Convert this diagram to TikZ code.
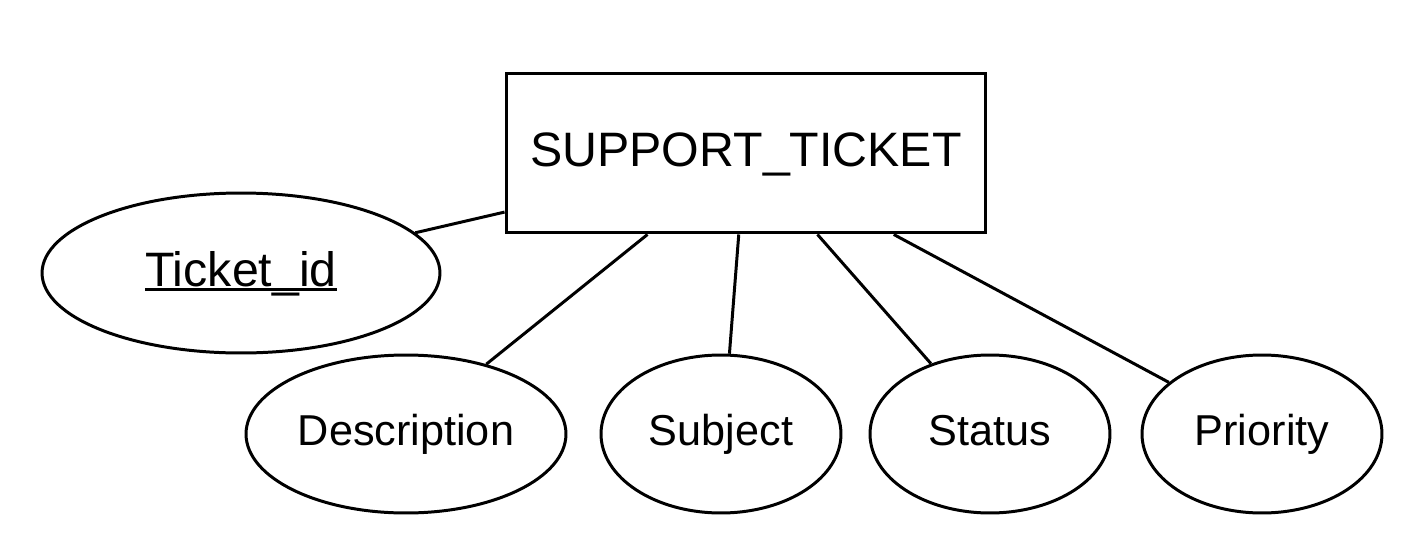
\documentclass[tikz,border=0pt]{standalone}
\usepackage{fontspec}
\setmainfont{Liberation Sans}
\newcommand{\keyattr}[1]{\setbox0\hbox{#1}\rlap{\copy0}\rule[-2.6pt]{\wd0}{1.6pt}}
\usetikzlibrary{shapes.geometric,calc,positioning}

\begin{document}
\begin{tikzpicture}[x=0.02cm,y=0.02cm,
    entity/.style={rectangle, draw=black, line width=1.7pt, minimum width=9.6cm, minimum height=3.2cm, inner sep=0pt, text height=20.6pt, text depth=5.8pt, font=\fontsize{27.5}{32}\selectfont},
    attribute/.style={ellipse, draw=black, line width=1.7pt, minimum height=3.16cm, inner sep=0pt, text height=18.5pt, text depth=5.2pt, font=\fontsize{24.6}{29}\selectfont},
    link/.style={line width=1.7pt}
]
\useasboundingbox (0,0) rectangle (1424,556);

% Entity
\node[entity] (ticket) at (746,403) {SUPPORT\_TICKET};

% Key attribute
\node[attribute, minimum width=7.96cm, minimum height=3.2cm, text height=20.6pt, text depth=5.8pt, font=\fontsize{27.5}{32}\selectfont] (ticketid) at (241,283) {\keyattr{Ticket\_id}};

% Other attributes
\node[attribute, minimum width=6.4cm] (desc) at (406,122) {Description};
\node[attribute, minimum width=4.8cm] (subject) at (721,122) {Subject};
\node[attribute, minimum width=4.8cm] (status) at (990,122) {Status};
\node[attribute, minimum width=4.8cm] (priority) at (1262,122) {Priority};

% Links
\draw[link] (ticketid.13) -- ($(ticket.north west)!0.8625!(ticket.south west)$);
\draw[link] (desc.41) -- ($(ticket.south west)!0.296!(ticket.south east)$);
\draw[link] (subject.84) -- ($(ticket.south west)!0.485!(ticket.south east)$);
\draw[link] (status.130) -- ($(ticket.south west)!0.648!(ticket.south east)$);
\draw[link] (priority.151) -- ($(ticket.south west)!0.806!(ticket.south east)$);

\end{tikzpicture}
\end{document}
